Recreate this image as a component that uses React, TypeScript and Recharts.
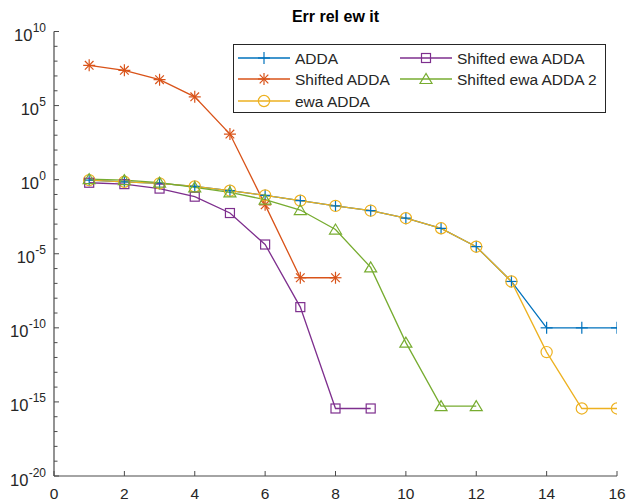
import React from 'react';
import { LineChart, Line, XAxis, YAxis, Legend } from 'recharts';

// ---- data ----
const iterations = [1, 2, 3, 4, 5, 6, 7, 8, 9, 10, 11, 12, 13, 14, 15, 16];
const addaErr = [0.93, 0.72, 0.56, 0.35, 0.18, 0.087, 0.038, 0.017, 0.0081, 0.0025, 5.2e-4, 3.0e-5, 1.35e-7, 1e-10, 1e-10, 1e-10];
const shiftedAddaErr = [5.2e7, 2.4e7, 5.6e6, 3.9e5, 1.2e3, 0.02, 2.4e-7, 2.4e-7];
const ewaAddaErr = [0.93, 0.72, 0.56, 0.35, 0.18, 0.087, 0.038, 0.017, 0.0081, 0.0025, 5.2e-4, 3.0e-5, 1.35e-7, 2.3e-12, 3.6e-16, 3.6e-16];
const shiftedEwaAddaErr = [0.62, 0.5, 0.25, 0.071, 0.0056, 4.2e-5, 2.5e-9, 3.6e-16, 3.6e-16];
const shiftedEwaAdda2Err = [1.1, 0.93, 0.63, 0.3, 0.14, 0.045, 0.0089, 4.3e-4, 1.2e-6, 1e-11, 5.2e-16, 5.2e-16];

const seriesNames = ['ADDA', 'Shifted ADDA', 'ewa ADDA', 'Shifted ewa ADDA', 'Shifted ewa ADDA 2'];
const xTicks = [0, 2, 4, 6, 8, 10, 12, 14, 16];
const yLabelExponents = [-20, -15, -10, -5, 0, 5, 10];
const chartTitle = 'Err rel ew it';

const COLORS = ['#0072BD', '#D95319', '#EDB120', '#7E2F8E', '#77AC30'];
const MARKERS = ['plus', 'asterisk', 'circle', 'square', 'triangle'];
const AXIS = '#4a4a4a';
const TEXT = '#262626';
const FONT = '"Liberation Sans", Arial, Helvetica, sans-serif';

const yMin = Math.pow(10, yLabelExponents[0]);
const yMax = Math.pow(10, yLabelExponents[yLabelExponents.length - 1]);
const yTicks: number[] = [];
for (let e = yLabelExponents[0]; e <= yLabelExponents[yLabelExponents.length - 1]; e++) yTicks.push(Math.pow(10, e));

const toPoints = (vals: number[]) => vals.map((v, i) => ({ x: iterations[i], y: v }));
const seriesData = [addaErr, shiftedAddaErr, ewaAddaErr, shiftedEwaAddaErr, shiftedEwaAdda2Err].map(toPoints);

function Marker({ kind, cx, cy, color }: { kind: string; cx: number; cy: number; color: string }) {
  const sw = 1.2;
  if (kind === 'plus') {
    return (
      <g stroke={color} strokeWidth={sw} fill="none">
        <line x1={cx - 6} x2={cx + 6} y1={cy} y2={cy} />
        <line x1={cx} x2={cx} y1={cy - 6} y2={cy + 6} />
      </g>
    );
  }
  if (kind === 'asterisk') {
    const d = 4.3;
    return (
      <g stroke={color} strokeWidth={sw} fill="none">
        <line x1={cx - 6} x2={cx + 6} y1={cy} y2={cy} />
        <line x1={cx} x2={cx} y1={cy - 6} y2={cy + 6} />
        <line x1={cx - d} x2={cx + d} y1={cy - d} y2={cy + d} />
        <line x1={cx - d} x2={cx + d} y1={cy + d} y2={cy - d} />
      </g>
    );
  }
  if (kind === 'circle') {
    return <circle cx={cx} cy={cy} r={5.6} stroke={color} strokeWidth={sw} fill="none" />;
  }
  if (kind === 'square') {
    return <rect x={cx - 4.5} y={cy - 4.5} width={9} height={9} stroke={color} strokeWidth={sw} fill="none" />;
  }
  return (
    <polygon
      points={`${cx},${cy - 5.5} ${cx - 6},${cy + 4.5} ${cx + 6},${cy + 4.5}`}
      stroke={color}
      strokeWidth={sw}
      fill="none"
    />
  );
}

const makeDot = (idx: number) => (props: any) => {
  const { cx, cy, index } = props;
  if (cx == null || cy == null) return <g key={`d${idx}-${index}`} />;
  return (
    <g key={`d${idx}-${index}`}>
      <Marker kind={MARKERS[idx]} cx={cx} cy={cy} color={COLORS[idx]} />
    </g>
  );
};

const expOf = (v: number) => Math.round(Math.log10(v));

const BASE_FS = 16.5;
const SUP_FS = 12;
const charW = (s: string) => s.split('').reduce((a, c) => a + (c === '-' ? 0.333 : 0.556), 0);

const LeftYTick = (props: any) => {
  const { x, y, payload } = props;
  const e = expOf(payload.value);
  const major = e % 5 === 0;
  const sup = String(e);
  const supEnd = x - 8;
  const supStart = supEnd - charW(sup) * SUP_FS;
  return (
    <g>
      <line x1={x} x2={x + (major ? 5 : 3.5)} y1={y} y2={y} stroke={AXIS} strokeWidth={1} />
      {major && (
        <g fill={TEXT} fontFamily={FONT}>
          <text x={supStart - 0.3} y={y + 9.5} textAnchor="end" fontSize={BASE_FS}>
            10
          </text>
          <text x={supStart} y={y + 0.5} textAnchor="start" fontSize={SUP_FS}>
            {sup}
          </text>
        </g>
      )}
    </g>
  );
};

const RightYTick = (props: any) => {
  const { x, y, payload } = props;
  const e = expOf(payload.value);
  const major = e % 5 === 0;
  return <line x1={x} x2={x - (major ? 5 : 3.5)} y1={y} y2={y} stroke={AXIS} strokeWidth={1} />;
};

const BottomXTick = (props: any) => {
  const { x, y, payload } = props;
  return (
    <g>
      <line x1={x} x2={x} y1={y} y2={y - 5} stroke={AXIS} strokeWidth={1} />
      <text x={x} y={y + 23} textAnchor="middle" fontSize={15.5} fill={TEXT} fontFamily={FONT}>
        {String(payload.value)}
      </text>
    </g>
  );
};

const TopXTick = (props: any) => {
  const { x, y } = props;
  return <line x1={x} x2={x} y1={y} y2={y + 5} stroke={AXIS} strokeWidth={1} />;
};

const LegendBox = () => {
  const rows = [14, 35, 57];
  const items = [
    { col: 0, row: 0 },
    { col: 0, row: 1 },
    { col: 0, row: 2 },
    { col: 1, row: 0 },
    { col: 1, row: 1 },
  ];
  return (
    <svg width={374} height={70} style={{ display: 'block' }}>
      <rect x={0.5} y={0.5} width={372} height={68} fill="#fff" stroke={TEXT} strokeWidth={1} />
      {items.map((it, i) => {
        const lx = it.col === 0 ? 5 : 167;
        const cy = rows[it.row];
        return (
          <g key={i}>
            <line x1={lx} x2={lx + 52} y1={cy} y2={cy} stroke={COLORS[i]} strokeWidth={1.3} />
            <Marker kind={MARKERS[i]} cx={lx + 26} cy={cy} color={COLORS[i]} />
            <text x={lx + 57} y={cy + 5.5} fontSize={15.5} fill={TEXT} fontFamily={FONT}>
              {seriesNames[i]}
            </text>
          </g>
        );
      })}
    </svg>
  );
};

export default function App() {
  return (
    <div style={{ position: 'absolute', left: 0, top: 0, width: 630, height: 502, background: '#fff' }}>
      <LineChart
        width={630}
        height={502}
        margin={{ top: 31.5, right: 13, bottom: 0, left: 0 }}
        style={{ fontFamily: FONT }}
      >
        <XAxis
          xAxisId={0}
          type="number"
          dataKey="x"
          domain={[0, 16]}
          ticks={xTicks}
          allowDataOverflow
          height={26}
          tickSize={0}
          tickMargin={0}
          tickLine={false}
          axisLine={{ stroke: AXIS, strokeWidth: 1.2 }}
          tick={<BottomXTick />}
          interval={0}
        />
        <XAxis
          xAxisId="top"
          orientation="top"
          type="number"
          domain={[0, 16]}
          ticks={xTicks}
          allowDataOverflow
          height={0}
          tickSize={0}
          tickMargin={0}
          tickLine={false}
          axisLine={{ stroke: AXIS, strokeWidth: 1.2 }}
          tick={<TopXTick />}
          interval={0}
        />
        <YAxis
          yAxisId={0}
          type="number"
          scale="log"
          domain={[yMin, yMax]}
          ticks={yTicks}
          allowDataOverflow
          width={54}
          tickSize={0}
          tickMargin={0}
          tickLine={false}
          axisLine={{ stroke: AXIS, strokeWidth: 1.2 }}
          tick={<LeftYTick />}
          interval={0}
        />
        <YAxis
          yAxisId="right"
          orientation="right"
          type="number"
          scale="log"
          domain={[yMin, yMax]}
          ticks={yTicks}
          allowDataOverflow
          width={0}
          tickSize={0}
          tickMargin={0}
          tickLine={false}
          axisLine={{ stroke: AXIS, strokeWidth: 1.2 }}
          tick={<RightYTick />}
          interval={0}
        />
        {seriesData.map((d, i) => (
          <Line
            key={seriesNames[i]}
            data={d}
            dataKey="y"
            name={seriesNames[i]}
            xAxisId={0}
            yAxisId={0}
            type="linear"
            stroke={COLORS[i]}
            strokeWidth={1.3}
            dot={makeDot(i)}
            activeDot={false}
            isAnimationActive={false}
          />
        ))}
        <Legend
          layout="vertical"
          align="center"
          verticalAlign="middle"
          content={<LegendBox />}
          wrapperStyle={{ position: 'absolute', left: 233, top: 44, width: 374, height: 70 }}
        />
      </LineChart>
      <svg
        width={630}
        height={30}
        style={{ position: 'absolute', left: 0, top: 0, pointerEvents: 'none' }}
      >
        <text x={335.5} y={21.5} textAnchor="middle" fontSize={16} fontWeight="bold" fill="#000" fontFamily={FONT}>
          {chartTitle}
        </text>
      </svg>
    </div>
  );
}
